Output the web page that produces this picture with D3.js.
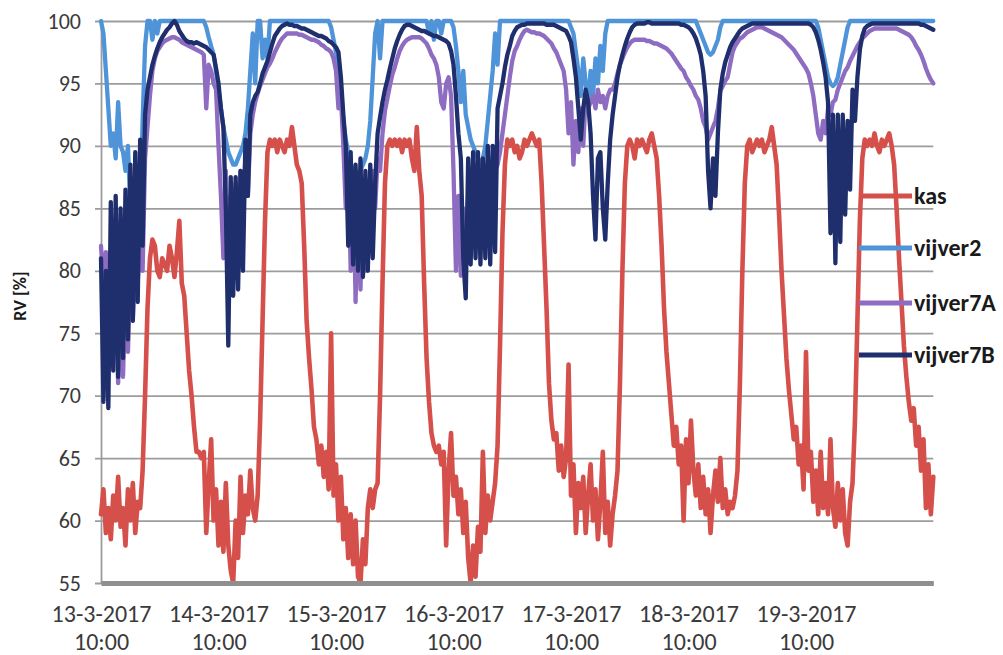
<!DOCTYPE html>
<html><head><meta charset="utf-8">
<script src="https://cdn.jsdelivr.net/npm/d3@7/dist/d3.min.js"></script>
<style>body{margin:0;background:#fff}svg{display:block}</style>
</head><body><svg id="c" width="1003" height="655"></svg>
<script>
const seriesNames = ["kas", "vijver2", "vijver7A", "vijver7B"];
const seriesColors = ["#d6504b", "#4f94d8", "#8e6cc2", "#1f2f6e"];
const yTicks = [55, 60, 65, 70, 75, 80, 85, 90, 95, 100];
const xTickHours = [0, 24, 48, 72, 96, 120, 144];
const xTickDates = ["13-3-2017", "14-3-2017", "15-3-2017", "16-3-2017", "17-3-2017", "18-3-2017", "19-3-2017"];
const xTickTimes = ["10:00", "10:00", "10:00", "10:00", "10:00", "10:00", "10:00"];
const stepHours = 0.5; // one reading every half hour, starting 13-3-2017 10:00

const kas = [
60.5,62.5,59,61,58.5,62,60,63.5,59.5,61,
58,62.5,60,63,59,61.5,61,64,70,77,
81,82.5,82,80,79.5,81,80.5,80,82,81,
79.5,81.5,84,79,78,75,72,70,67.5,65.5,
65.5,65,65.5,59,63,66.5,60,62.5,58,61.5,
57.5,63,58,56,55,60,57,63.5,59,62,
60.5,64,61,60,62,68,76,84,89.5,90.5,
90,90.5,89.5,90.5,90,89.5,90.5,90,91.5,90,
88.5,88,87,82,76,73,70.5,67.5,66.5,64.5,
66,63.5,65.5,62.5,75,62,64.5,60,63.5,58.5,
61,57,60.5,56.5,60,55.5,55,58.5,56.5,61,
62.5,61,62.5,63,70,79,87,90,90.5,90,
90.5,90,90.5,89.5,90.5,90,90.5,89,88,91.5,
88,86,79,73,69.5,67,66,65.5,66,64.5,
65.5,58,64,67,62,63.5,60.5,62.5,59,61.5,
57,55,58,55.5,59.5,57.5,65.5,59,62,60,
61.5,63,66,74,83,88.5,90.5,90,90.5,89.5,
90,89,89.5,90.5,90,90.5,91,90.5,90,90.5,
87,82,77,71,68,66.5,67,64,66,63.5,
65,72.5,62,64.5,59,63,61,63.5,59,62,
64.5,60,62.5,58.5,61.5,65.5,59,61.5,58,60.5,
62,64,71,80,87,90,90.5,90,89,90.5,
90,90.5,90,89.5,90.5,91,90,89,86,82,
77,73.5,71,68.5,66,67.5,64.5,66,60,66.5,
63,68,64,62,64.5,61,63.5,60.5,62.5,59,
62,64,61.5,65,61,62.5,60.5,61.5,61,62,
64,71,80,87,90,90.5,89.5,90,90.5,90,
90.5,89.5,90,90.5,91.5,90,88.5,84.5,80,76.5,
73,70.5,68.5,66.5,67.5,64.5,66,62.5,73.5,64,
65.5,61.5,64,60.5,65.5,61,63,60.5,66.5,61,
59.5,63,60,62.5,59,58,61.5,63,68,76,
84,89,90.5,90,90.5,90,91,90,89.5,90.5,
90,90.5,91,90,88.5,85,81,77.5,74,71.5,
69.5,68,69,66,67.5,64,66.5,61,64.5,60.5,
63.5];

const vijver2 = [
100,99,96,93,90,91,89,93.5,90,89.5,
88,90,85,82,80,79,84,92,98,100,
100,98.5,100,99,100,100,100,100,100,100,
100,100,100,100,100,100,100,100,100,100,
100,100,100,99.5,98.7,98,97.3,96,94.5,93,
91.5,90.5,89.5,89,88.5,88.5,89,89.5,90,91,
93,96,99,95,100,100,97,98.5,97,100,
100,100,100,100,100,100,100,100,100,100,
100,100,100,100,100,100,100,100,100,100,
100,100,100,100,99.5,98.5,97.5,96,94,92,
90.5,89.5,88.5,88,88,87.8,88,88.5,89,90,
92,95.5,99,100,97,100,100,100,100,100,
100,100,100,100,100,100,100,100,100,100,
100,100,100,100,99,100,98.5,100,100,99,
100,100,100,100,99.5,98,96,93.5,96,92.5,
91.5,90.5,90,89.5,89,88.5,89,90,92,94,
96,99,96.5,100,100,100,100,100,100,100,
100,100,100,100,100,100,100,100,100,100,
100,100,100,100,100,100,100,100,100,100,
100,100,99.5,99,97.5,96,94,97,95,93.5,
96,94,97,95,98,96,99,100,100,100,
100,100,100,100,100,100,100,100,100,100,
100,100,100,100,100,100,100,100,100,100,
100,100,100,100,100,100,100,100,100,100,
100,100,100,100,99.5,99,98.5,98,97.5,97.3,
97.5,98,98.5,99.5,100,100,100,100,100,100,
100,100,100,100,100,100,100,100,100,100,
100,100,100,100,100,100,100,100,100,100,
100,100,100,100,100,100,100,100,100,100,
100,100,100,99.5,98.5,97.5,96.5,95.5,95,94.8,
95,95.5,96.5,97.5,98.5,99.5,100,100,100,100,
100,100,100,100,100,100,100,100,100,100,
100,100,100,100,100,100,100,100,100,100,
100,100,100,100,100,100,100,100,100,100,
100];

const vijver7A = [
82,79,81.5,76,80,74.5,79.5,71,78,71.5,
79,73.5,79.5,76,80,79,84,80,89,91.5,
94,96,97,97.6,97.9,98.2,98.4,98.5,98.6,98.7,
98.7,98.6,98.5,98.3,98.2,98.1,98,97.9,97.8,97.7,
97.6,97.5,97.3,93,96.5,96,95,94.5,90,86,
81,88,79,86,80,87,81,88,85.5,89,
86,91,92.5,93.5,94.2,94.8,95.3,95.8,96.3,96.6,
97,97.5,97.9,98.3,98.6,98.8,99,99,99,99,
99,98.9,98.9,98.8,98.7,98.6,98.5,98.5,98.4,98.3,
98.1,98,97.8,97.7,97.5,97,96,93,94,90,
85,89,80,88,77.5,87,78.5,86.5,80,87,
82,88,85,89,88,91,92.8,93.8,94.8,95.7,
96.3,97,97.6,98,98.3,98.5,98.6,98.7,98.7,98.7,
98.7,98.6,98.4,98.2,97.8,97.3,97,96.5,95.5,93.5,
93,95,95.5,94,88,80,86,79.6,85,82,
86,82,87,83,86.5,82.5,87,83,87.5,84,
86,88,88.5,89.5,91,92.5,94,95.5,96.8,97.6,
98,98.5,98.9,99.2,99.3,99.2,99.1,99.1,99,99,
98.9,98.8,98.6,98.4,98.2,97.8,97.5,97,96.5,96,
94.5,91,93.5,88.5,92,89.5,93,90,94,93,
93.5,94,93,94.5,93.5,94,93,94,94.5,94.5,
95,95.8,96.5,97,97.5,97.9,98.2,98.4,98.5,98.5,
98.5,98.5,98.5,98.4,98.4,98.3,98.2,98.2,98.1,98,
97.9,97.8,97.6,97.4,97.1,96.8,96.5,96.2,96,95.5,
95.2,94.8,94.5,94,93.7,93,92,91.5,90.5,91,
91.5,92,93,94.4,94.8,95.2,95.5,96.5,97.5,98,
98.3,98.6,98.7,98.9,99.1,99.2,99.3,99.4,99.5,99.5,
99.5,99.4,99.3,99.2,99.1,99,98.9,98.8,98.7,98.5,
98.3,98.1,97.9,97.7,97.4,97.1,96.8,96.5,96.2,95.8,
95,94,92.5,91,90.5,92,91,93,92.5,93.5,
93.7,94.5,95,95.5,96,96.3,96.8,97.2,97.6,98,
98.3,98.6,98.8,99,99.2,99.3,99.4,99.4,99.4,99.4,
99.4,99.4,99.4,99.4,99.4,99.4,99.3,99.2,99.1,99,
98.9,98.7,98.4,98,97.7,97.3,96.8,96.2,95.7,95.3,
95];

const vijver7B = [
81,69.5,80,69,85.5,72,86,71.5,85,73,
86.5,74.5,88.5,76,89.5,77.5,90.5,82,92.5,94.5,
95.5,96.5,97.2,97.8,98.3,98.7,99,99.3,99.5,99.8,
100,99.7,99.2,98.9,98.6,98.4,98.3,98.3,98.2,98.3,
98.2,98.1,98,97.9,97.7,97.5,97.3,96.2,95,93,
91.5,85,74,87.5,78,87.5,78.5,88,80,90.5,
86,92.5,93.5,94,94.3,95,95.8,96.3,96.8,97.5,
98.2,98.8,99.1,99.4,99.6,99.7,99.8,99.7,99.7,99.6,
99.6,99.5,99.4,99.4,99.3,99.2,99.1,99,98.9,98.8,
98.8,98.7,98.6,98.4,98.3,98.1,97.9,97.5,95.5,92.5,
90,82,89.5,80.5,88.5,80,89,79.5,88,80,
88.5,81,87,91,92.3,93.5,94.5,95.3,96.2,97,
97.8,98.4,98.9,99.3,99.6,99.7,99.7,99.6,99.5,99.4,
99.3,99.2,99.2,99.1,99,98.9,98.8,98.8,98.7,98.6,
98.5,98.4,98.2,97.6,96.5,94,91,89,81,77.8,
89,80.5,89.5,81,89.5,80.5,89,81,90,80.5,
90,81.5,93,94,95,96.3,97.3,98,98.8,99.2,
99.5,99.6,99.7,99.7,99.8,99.8,99.8,99.8,99.8,99.8,
99.8,99.8,99.7,99.7,99.7,99.7,99.6,99.5,99.4,99.3,
99.2,98.8,98.3,97,95.5,93,90.5,93,94.5,93.5,
91,86,82.5,89,89.5,85,82.5,87,90.5,92.5,
94,95.5,96.5,97.3,98,98.6,99.1,99.5,99.7,99.8,
99.8,99.8,99.8,99.9,99.9,99.8,99.8,99.8,99.8,99.8,
99.8,99.8,99.8,99.8,99.8,99.8,99.8,99.7,99.7,99.6,
99.5,99.3,99,98.6,98,97.3,96,94,88,85,
89,86,91,94.5,95.8,96.7,97.3,97.9,98.3,98.6,
98.9,99.2,99.4,99.5,99.6,99.7,99.8,99.8,99.8,99.8,
99.8,99.8,99.8,99.8,99.8,99.8,99.8,99.8,99.8,99.8,
99.8,99.8,99.8,99.8,99.8,99.8,99.8,99.8,99.8,99.8,
99.7,99.5,99.1,98.5,97.7,96.7,95.5,93.5,83,92.5,
80.6,92.5,82.3,92.5,84.5,92,86.5,94.5,92,95.5,
97.7,98.8,99.4,99.6,99.7,99.8,99.8,99.8,99.8,99.8,
99.8,99.8,99.8,99.8,99.8,99.8,99.8,99.8,99.8,99.8,
99.8,99.8,99.8,99.8,99.8,99.7,99.7,99.6,99.5,99.4,
99.3];

const seriesData = [kas, vijver2, vijver7A, vijver7B];

(function () {
const svg = d3.select("#c");
const FONT = "Carlito, Lato, 'Open Sans', sans-serif";
const plotLeft = 101, plotRight = 933.3, plotTop = 21, plotBottom = 583;
const totalHours = (kas.length - 1) * stepHours;
const x = d3.scaleLinear().domain([0, totalHours]).range([plotLeft, plotRight]);
const y = d3.scaleLinear().domain([55, 100]).range([plotBottom, plotTop]);

// gridlines (extend a little left of the axis like tick marks)
const grid = svg.append("g").attr("transform", "translate(95,0)")
  .call(d3.axisRight(y).tickValues(yTicks).tickSize(plotRight - 95).tickFormat(""));
grid.select(".domain").remove();
grid.selectAll("line").attr("stroke", "#9c9c9c").attr("stroke-width", 1.8);

// y axis labels + vertical axis line
const yAx = svg.append("g").attr("transform", `translate(${plotLeft},0)`)
  .call(d3.axisLeft(y).tickValues(yTicks).tickSize(0).tickSizeOuter(0).tickPadding(20));
yAx.select(".domain").attr("stroke", "#9c9c9c").attr("stroke-width", 1.8);
yAx.selectAll("text").attr("font-family", FONT).attr("font-size", 22).attr("fill", "#3a3a3a");

// series
const line = d3.line().x((d, i) => x(i * stepHours)).y(d => y(d)).curve(d3.curveLinear);
seriesData.forEach((arr, k) => {
  svg.append("path").datum(arr)
    .attr("fill", "none")
    .attr("stroke", seriesColors[k])
    .attr("stroke-width", k === 0 ? 4.6 : 4.3)
    .attr("stroke-linejoin", "round")
    .attr("stroke-linecap", "round")
    .attr("d", line);
});

// x axis (thick grey baseline)
const xAx = svg.append("g").attr("transform", `translate(0,${plotBottom})`)
  .call(d3.axisBottom(x).tickValues(xTickHours).tickSize(0).tickSizeOuter(0).tickFormat(""));
xAx.select(".domain").attr("stroke", "#8f8f8f").attr("stroke-width", 5);
xAx.selectAll(".tick").each(function (d, i) {
  const t = d3.select(this).select("text")
    .attr("font-family", FONT).attr("font-size", 24).attr("fill", "#3a3a3a")
    .attr("y", 0).attr("dy", null).attr("text-anchor", "middle");
  t.append("tspan").attr("x", 0).attr("y", 39).text(xTickDates[i]);
  t.append("tspan").attr("x", 0).attr("y", 67).text(xTickTimes[i]);
});

// y title
svg.append("text")
  .attr("transform", "translate(26,296) rotate(-90)")
  .attr("text-anchor", "middle")
  .attr("font-family", FONT).attr("font-weight", "bold").attr("font-size", 18)
  .attr("fill", "#1a1a1a")
  .text("RV [%]");

// legend
const legendY = [196, 248, 303, 355];
seriesNames.forEach((name, k) => {
  svg.append("line")
    .attr("x1", 859).attr("x2", 912)
    .attr("y1", legendY[k]).attr("y2", legendY[k])
    .attr("stroke", seriesColors[k]).attr("stroke-width", 5);
  svg.append("text")
    .attr("x", 914).attr("y", legendY[k]).attr("dy", "0.35em")
    .attr("font-family", FONT).attr("font-weight", "bold").attr("font-size", 24)
    .attr("fill", "#1a1a1a")
    .text(name);
});
})();
</script>
</body></html>
